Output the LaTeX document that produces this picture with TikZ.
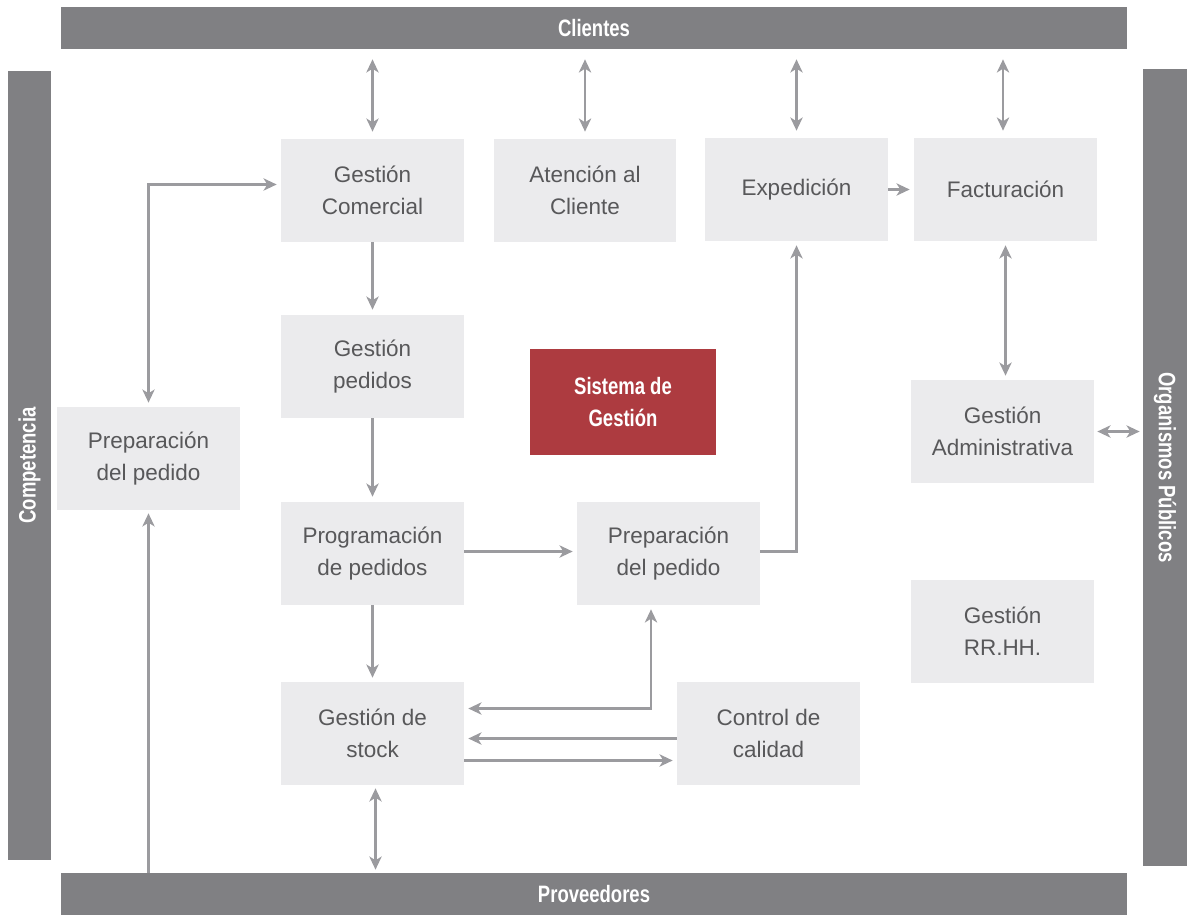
\documentclass[tikz,border=0pt]{standalone}
\usepackage{fontspec}
\setmainfont{Liberation Sans}
\newfontfamily\barfont[FakeStretch=0.78]{Liberation Sans}
\usetikzlibrary{arrows.meta}

\definecolor{grisbarra}{HTML}{808083}
\definecolor{grisbloque}{HTML}{EBEBED}
\definecolor{grisflecha}{HTML}{9B9B9F}
\definecolor{gristexto}{HTML}{58585A}
\definecolor{rojosist}{HTML}{AD3B40}

\tikzset{
  bloque/.style={fill=grisbloque, minimum width=3.66cm, minimum height=2.06cm,
    align=center, text=gristexto, font=\fontsize{12.8}{18}\selectfont},
  barra/.style={fill=grisbarra, text=white, inner sep=0pt,
    font=\barfont\bfseries\fontsize{13.5}{18}\selectfont},
  flecha/.style={draw=grisflecha, line width=1.4pt,
    >={Stealth[length=7.5pt,width=7pt,inset=2.2pt]}}
}

\begin{document}
\begin{tikzpicture}[x=0.02cm, y=-0.02cm]
    \useasboundingbox (0,0) rectangle (1192,915);

    % Barras exteriores
    \node[barra, minimum width=21.32cm, minimum height=0.84cm] (clientes) at (594,28) {Clientes};
    \node[barra, minimum width=21.32cm, minimum height=0.84cm] (proveedores) at (594,894) {Proveedores};
    \node[barra, minimum width=15.78cm, minimum height=0.86cm, rotate=90] (competencia) at (29.5,465.5) {Competencia};
    \node[barra, minimum width=15.94cm, minimum height=0.88cm, rotate=-90] (organismos) at (1165,467.5) {Organismos Públicos};

    % Bloques
    \node[bloque] (gcom) at (372.5,190.5) {Gestión\\Comercial};
    \node[bloque] (atencion) at (585,190.5) {Atención al\\Cliente};
    \node[bloque] (exped) at (796.5,189.5) {Expedición};
    \node[bloque] (fact) at (1005.5,189.5) {Facturación};
    \node[bloque] (gped) at (372.5,366.5) {Gestión\\pedidos};
    \node[bloque] (prepizq) at (148.5,458.5) {Preparación\\del pedido};
    \node[bloque] (gadm) at (1002.5,431.5) {Gestión\\Administrativa};
    \node[bloque] (prog) at (372.5,553.5) {Programación\\de pedidos};
    \node[bloque] (prepmed) at (668.5,553.5) {Preparación\\del pedido};
    \node[bloque] (rrhh) at (1002.5,631.5) {Gestión\\RR.HH.};
    \node[bloque] (gstock) at (372.5,733.5) {Gestión de\\stock};
    \node[bloque] (control) at (768.5,733.5) {Control de\\calidad};

    % Sistema de gestion
    \node[fill=rojosist, text=white, minimum width=3.72cm, minimum height=2.12cm, align=center,
      font=\barfont\bfseries\fontsize{13.5}{18}\selectfont] (sistema) at (623,402) {Sistema de\\Gestión};

    % Flechas con los clientes
    \foreach \b in {gcom, atencion, exped} {
      \draw[flecha, <->, shorten <=0.2cm, shorten >=0.14cm] (clientes.south -| \b.north) -- (\b.north);
    }
    \draw[flecha, <->, shorten <=0.2cm, shorten >=0.14cm] (clientes.south -| fact.north) ++(-2.5,0) coordinate (cf) -- (cf |- fact.north);

    % Flujo de pedidos
    \draw[flecha, ->, shorten >=0.1cm] (gcom) -- (gped);
    \draw[flecha, ->, shorten >=0.1cm] (gped) -- (prog);
    \draw[flecha, ->, shorten >=0.08cm] (prog) -- (gstock);
    \draw[flecha, ->, shorten >=0.08cm] ([yshift=0.04cm]prog.east) -- ([yshift=0.04cm]prepmed.west);
    \draw[flecha, ->, shorten >=0.08cm] ([yshift=0.04cm]prepmed.east) -| (exped.south);
    \draw[flecha, ->, shorten >=0.08cm] (exped) -- (fact);
    \draw[flecha, <->, shorten <=0.08cm, shorten >=0.08cm] (prepizq.north) |- ([yshift=0.12cm]gcom.west);
    \draw[flecha, ->, shorten >=0.06cm] (proveedores.north -| prepizq.south) -- (prepizq.south);

    % Stock y calidad
    \draw[flecha, <->, shorten <=0.08cm, shorten >=0.08cm] ([yshift=0.5cm]gstock.east) -| ([xshift=-0.35cm]prepmed.south);
    \draw[flecha, ->, shorten >=0.08cm] ([yshift=-0.1cm]control.west) -- ([yshift=-0.1cm]gstock.east);
    \draw[flecha, ->, shorten >=0.08cm] ([yshift=-0.54cm]gstock.east) -- ([yshift=-0.54cm]control.west);
    \draw[flecha, <->, shorten <=0.06cm, shorten >=0.06cm] ([xshift=0.06cm]gstock.south) -- ([xshift=0.06cm]gstock.south |- proveedores.north);

    % Administracion
    \draw[flecha, <->, shorten <=0.08cm, shorten >=0.08cm] (fact.south) -- (fact.south |- gadm.north);
    \draw[flecha, <->, shorten <=0.06cm, shorten >=0.06cm] (gadm.east) -- (gadm.east -| organismos.south);
\end{tikzpicture}
\end{document}
